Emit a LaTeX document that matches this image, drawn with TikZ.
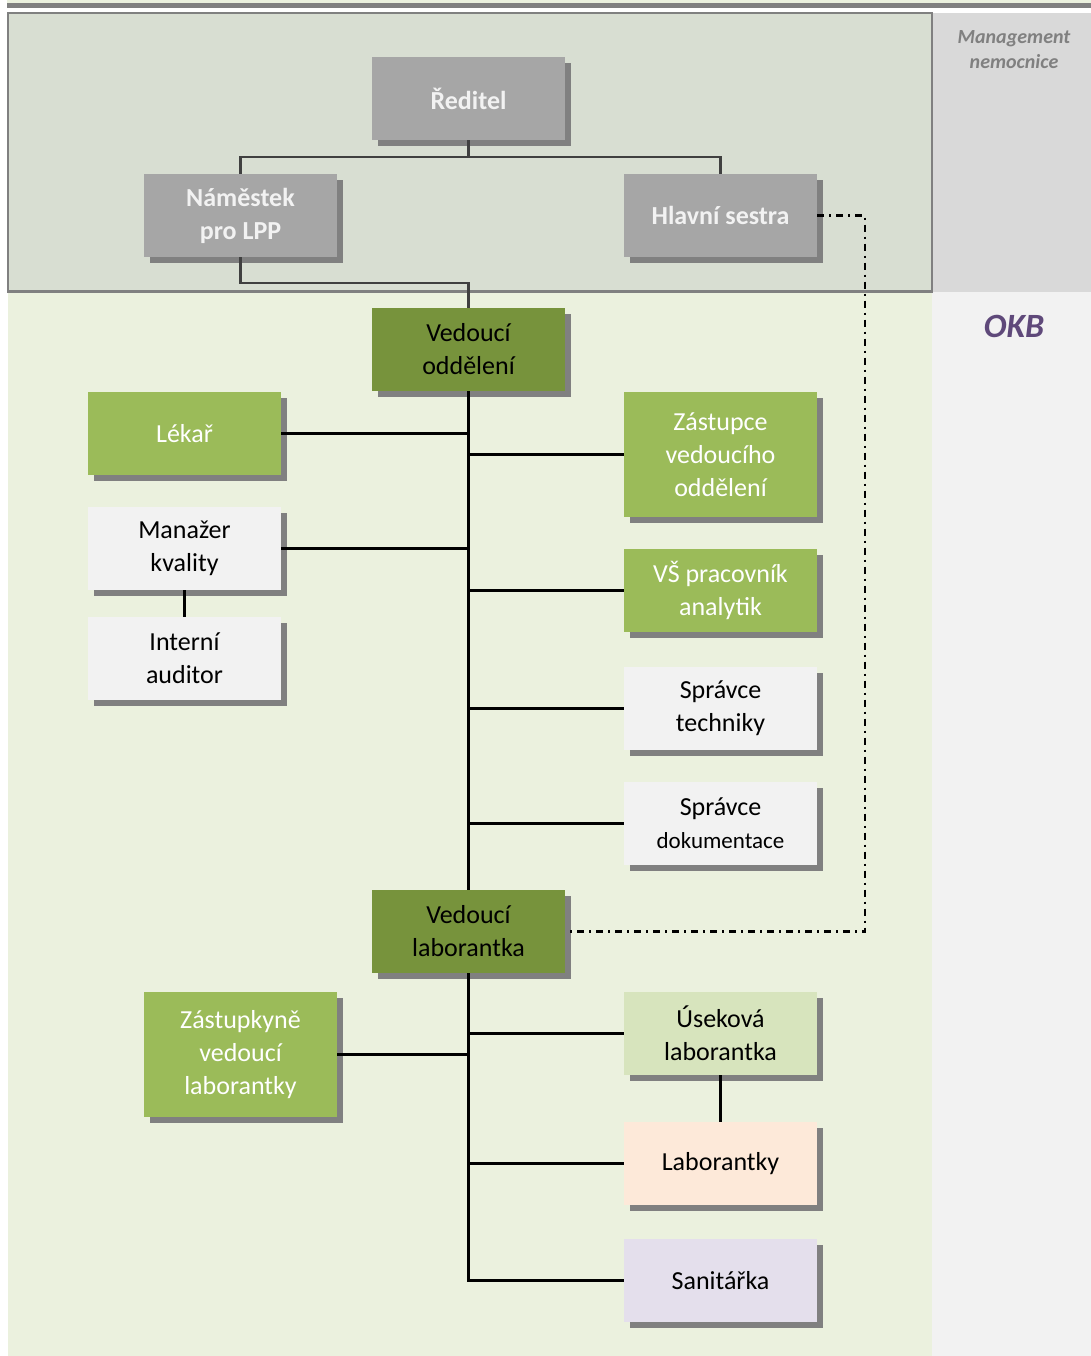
\documentclass[tikz,border=0pt]{standalone}
\usepackage{fontspec}
\setmainfont{Carlito}
\usetikzlibrary{shadows}
\definecolor{okbbg}{HTML}{EBF1DE}
\definecolor{mgmtbg}{HTML}{D8DED2}
\definecolor{sidetop}{HTML}{D9D9D9}
\definecolor{sidebot}{HTML}{F2F2F2}
\definecolor{boxgray}{HTML}{A6A6A6}
\definecolor{darkgreen}{HTML}{77933C}
\definecolor{midgreen}{HTML}{9BBB59}
\definecolor{palegreen}{HTML}{D7E4BD}
\definecolor{palepeach}{HTML}{FDE9D9}
\definecolor{palelilac}{HTML}{E4DFEC}
\definecolor{okbtext}{HTML}{5F497A}
\tikzstyle{unit}=[rectangle,minimum width=193pt,minimum height=83pt,inner sep=0pt,align=center,
  font=\fontsize{26}{33}\selectfont,
  drop shadow={shadow xshift=6pt,shadow yshift=-6pt,fill=black!50,opacity=1}]
\tikzstyle{mgmt}=[unit,fill=boxgray,text=sidebot,font=\fontsize{26}{33}\selectfont\bfseries]
\tikzstyle{head}=[unit,fill=darkgreen,text=black]
\tikzstyle{green}=[unit,fill=midgreen,text=white]
\tikzstyle{plain}=[unit,fill=sidebot,text=black]
\tikzstyle{link}=[line width=2.4pt,black]
\tikzstyle{toplink}=[line width=2.4pt,black!75]
\tikzstyle{dashdot}=[line width=2.4pt,black,dash pattern=on 7pt off 5pt on 2pt off 5pt]

\begin{document}
\begin{tikzpicture}[x=1pt,y=-1pt]
  \useasboundingbox (0,0) rectangle (1091,1356);
  \fill[okbbg] (7,0) rectangle (1091,4);
  \fill[black!50] (7,3) rectangle (1091,8);
  \fill[okbbg] (8,292) rectangle (932,1356);
  \fill[sidetop] (932,13) rectangle (1091,292);
  \fill[sidebot] (932,292) rectangle (1091,1356);
  \draw[black!50,line width=2pt,fill=mgmtbg] (8,13) rectangle (932,292);
  \draw[black!50,line width=3pt] (8,291) -- (932,291);
  \node[text=black!50,align=center,font=\fontsize{20}{25}\selectfont\bfseries\itshape] (mgmtlabel) at (1014,50) {Management\\nemocnice};
  \node[text=okbtext,font=\fontsize{34}{40}\selectfont\bfseries\itshape] (okblabel) at (1014,326) {OKB};

  \node[mgmt] (reditel) at (468.5,98.5) {Ředitel};
  \node[mgmt] (namestek) at (240.5,215.5) {Náměstek\\pro LPP};
  \node[mgmt] (sestra) at (720.5,215.5) {Hlavní sestra};
  \node[head] (vedouci) at (468.5,349.5) {Vedoucí\\oddělení};
  \node[green] (lekar) at (184.5,433.5) {Lékař};
  \node[green,minimum height=125pt] (zastupce) at (720.5,454.5) {Zástupce\\vedoucího\\oddělení};
  \node[plain] (manazer) at (184.5,548.5) {Manažer\\kvality};
  \node[plain] (auditor) at (184.5,658.5) {Interní\\auditor};
  \node[green] (analytik) at (720.5,590.5) {VŠ pracovník\\analytik};
  \node[plain] (technika) at (720.5,708.5) {Správce\\techniky};
  \node[plain] (dokumentace) at (720.5,823.5) {Správce\\{\fontsize{23}{33}\selectfont dokumentace}};
  \node[head] (vlab) at (468.5,931.5) {Vedoucí\\laborantka};
  \node[green,minimum height=125pt] (zastupkyne) at (240.5,1054.5) {Zástupkyně\\vedoucí\\laborantky};
  \node[unit,fill=palegreen] (usekova) at (720.5,1033.5) {Úseková\\laborantka};
  \node[unit,fill=palepeach] (laborantky) at (720.5,1163.5) {Laborantky};
  \node[unit,fill=palelilac] (sanitarka) at (720.5,1280.5) {Sanitářka};

  \draw[toplink] (reditel.south) -- ++(0,17) -| (namestek.north);
  \draw[toplink] (reditel.south) -- ++(0,17) -| (sestra.north);
  \draw[toplink] (namestek.south) -- ++(0,26) -| (vedouci.north);
  \draw[link] (vedouci.south) -- (vlab.north);
  \draw[link] (lekar.east) -- (lekar.east -| vedouci.south);
  \draw[link] (manazer.east) -- (manazer.east -| vedouci.south);
  \draw[link] (zastupce.west) -- (zastupce.west -| vedouci.south);
  \draw[link] (analytik.west) -- (analytik.west -| vedouci.south);
  \draw[link] (technika.west) -- (technika.west -| vedouci.south);
  \draw[link] (dokumentace.west) -- (dokumentace.west -| vedouci.south);
  \draw[link] (manazer.south) -- (auditor.north);
  \draw[link] (vlab.south) |- (sanitarka.west);
  \draw[link] (zastupkyne.east) -- (zastupkyne.east -| vlab.south);
  \draw[link] (usekova.west) -- (usekova.west -| vlab.south);
  \draw[link] (laborantky.west) -- (laborantky.west -| vlab.south);
  \draw[link] (usekova.south) -- (laborantky.north);
  \coordinate (roh) at (865,0);
  \draw[dashdot] (sestra.east) -| (roh |- vlab.east) -- (vlab.east);
\end{tikzpicture}
\end{document}
